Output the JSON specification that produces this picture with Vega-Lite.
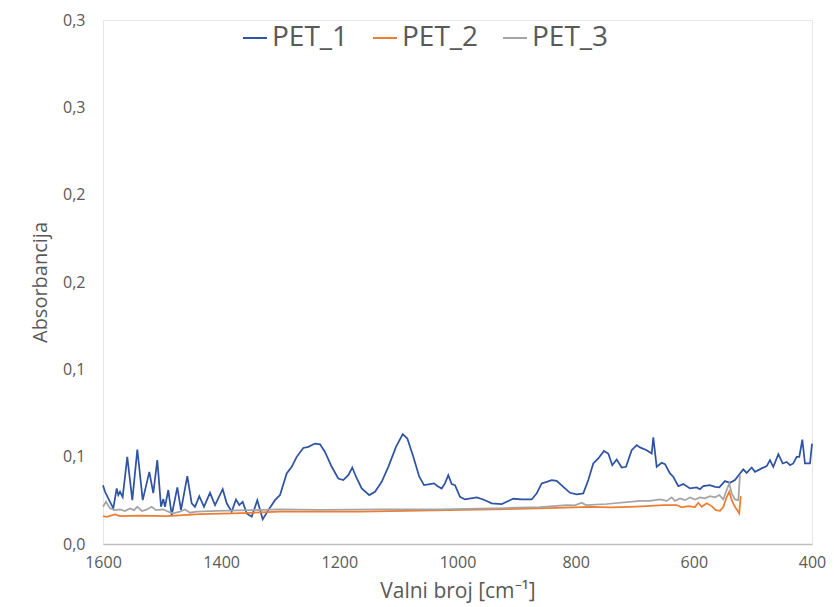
{
"$schema": "https://vega.github.io/schema/vega-lite/v6.json",
"width": 709, "height": 524,
"autosize": {"type": "none"},
"padding": {"left": 103, "top": 20, "right": 22, "bottom": 63},
"background": "white",
"config": {"font": "Open Sans", "view": {"stroke": "#e6e6e6"}},
"data": {"values": [
{"s":"PET_1","wn":1600,"v":0.0337},{"s":"PET_1","wn":1596.6,"v":0.0299},{"s":"PET_1","wn":1582.6,"v":0.0204},{"s":"PET_1","wn":1576.8,"v":0.0318},{"s":"PET_1","wn":1574.1,"v":0.028},{"s":"PET_1","wn":1571.2,"v":0.0299},{"s":"PET_1","wn":1566.7,"v":0.0269},{"s":"PET_1","wn":1558.9,"v":0.0499},{"s":"PET_1","wn":1550.4,"v":0.0251},{"s":"PET_1","wn":1541.9,"v":0.0541},{"s":"PET_1","wn":1532.8,"v":0.0251},{"s":"PET_1","wn":1521.6,"v":0.0413},{"s":"PET_1","wn":1514.9,"v":0.0291},{"s":"PET_1","wn":1508.1,"v":0.048},{"s":"PET_1","wn":1501.8,"v":0.0213},{"s":"PET_1","wn":1497.9,"v":0.0257},{"s":"PET_1","wn":1495.1,"v":0.0213},{"s":"PET_1","wn":1489.5,"v":0.0309},{"s":"PET_1","wn":1483.7,"v":0.0166},{"s":"PET_1","wn":1474.2,"v":0.0324},{"s":"PET_1","wn":1468.0,"v":0.0194},{"s":"PET_1","wn":1457.3,"v":0.0389},{"s":"PET_1","wn":1449.9,"v":0.0233},{"s":"PET_1","wn":1444.3,"v":0.0213},{"s":"PET_1","wn":1437.0,"v":0.0274},{"s":"PET_1","wn":1429.1,"v":0.0213},{"s":"PET_1","wn":1418.9,"v":0.0293},{"s":"PET_1","wn":1410.4,"v":0.0223},{"s":"PET_1","wn":1397.4,"v":0.0314},{"s":"PET_1","wn":1390.6,"v":0.0233},{"s":"PET_1","wn":1382.2,"v":0.0185},{"s":"PET_1","wn":1374.9,"v":0.0255},{"s":"PET_1","wn":1369.3,"v":0.0223},{"s":"PET_1","wn":1363.6,"v":0.0242},{"s":"PET_1","wn":1356.8,"v":0.0175},{"s":"PET_1","wn":1348.3,"v":0.0156},{"s":"PET_1","wn":1338.8,"v":0.0251},{"s":"PET_1","wn":1329.7,"v":0.0141},{"s":"PET_1","wn":1320.2,"v":0.0194},{"s":"PET_1","wn":1308.9,"v":0.0251},{"s":"PET_1","wn":1300.4,"v":0.028},{"s":"PET_1","wn":1289.1,"v":0.0404},{"s":"PET_1","wn":1280.6,"v":0.0442},{"s":"PET_1","wn":1272.2,"v":0.0499},{"s":"PET_1","wn":1261.0,"v":0.055},{"s":"PET_1","wn":1252.5,"v":0.0556},{"s":"PET_1","wn":1241.2,"v":0.0575},{"s":"PET_1","wn":1232.7,"v":0.0571},{"s":"PET_1","wn":1224.3,"v":0.0527},{"s":"PET_1","wn":1212.9,"v":0.0442},{"s":"PET_1","wn":1201.8,"v":0.0375},{"s":"PET_1","wn":1193.3,"v":0.0366},{"s":"PET_1","wn":1184.8,"v":0.0394},{"s":"PET_1","wn":1178.1,"v":0.0438},{"s":"PET_1","wn":1171.8,"v":0.0385},{"s":"PET_1","wn":1162.1,"v":0.0318},{"s":"PET_1","wn":1149.3,"v":0.028},{"s":"PET_1","wn":1139.6,"v":0.0299},{"s":"PET_1","wn":1128.3,"v":0.0356},{"s":"PET_1","wn":1117.1,"v":0.0442},{"s":"PET_1","wn":1104.1,"v":0.0556},{"s":"PET_1","wn":1092.7,"v":0.0629},{"s":"PET_1","wn":1084.9,"v":0.0604},{"s":"PET_1","wn":1074.8,"v":0.0499},{"s":"PET_1","wn":1064.7,"v":0.0385},{"s":"PET_1","wn":1056.7,"v":0.0337},{"s":"PET_1","wn":1046.6,"v":0.0343},{"s":"PET_1","wn":1039.8,"v":0.0347},{"s":"PET_1","wn":1033.5,"v":0.0331},{"s":"PET_1","wn":1026.8,"v":0.0318},{"s":"PET_1","wn":1021.2,"v":0.0347},{"s":"PET_1","wn":1015.6,"v":0.0394},{"s":"PET_1","wn":1009.8,"v":0.0343},{"s":"PET_1","wn":1004.2,"v":0.0337},{"s":"PET_1","wn":995.8,"v":0.027},{"s":"PET_1","wn":987.3,"v":0.0255},{"s":"PET_1","wn":967.5,"v":0.0267},{"s":"PET_1","wn":956.3,"v":0.0255},{"s":"PET_1","wn":942.1,"v":0.0233},{"s":"PET_1","wn":925.2,"v":0.0229},{"s":"PET_1","wn":916.7,"v":0.0242},{"s":"PET_1","wn":905.6,"v":0.0259},{"s":"PET_1","wn":891.4,"v":0.0255},{"s":"PET_1","wn":874.4,"v":0.0255},{"s":"PET_1","wn":865.9,"v":0.029},{"s":"PET_1","wn":857.5,"v":0.0347},{"s":"PET_1","wn":849.0,"v":0.0356},{"s":"PET_1","wn":840.6,"v":0.0366},{"s":"PET_1","wn":832.1,"v":0.0362},{"s":"PET_1","wn":820.9,"v":0.0327},{"s":"PET_1","wn":809.6,"v":0.0293},{"s":"PET_1","wn":798.3,"v":0.0284},{"s":"PET_1","wn":787.1,"v":0.029},{"s":"PET_1","wn":778.6,"v":0.0366},{"s":"PET_1","wn":770.2,"v":0.0461},{"s":"PET_1","wn":761.7,"v":0.049},{"s":"PET_1","wn":752.1,"v":0.0533},{"s":"PET_1","wn":744.8,"v":0.0518},{"s":"PET_1","wn":738.0,"v":0.0451},{"s":"PET_1","wn":730.6,"v":0.0484},{"s":"PET_1","wn":722.1,"v":0.0438},{"s":"PET_1","wn":714.8,"v":0.0442},{"s":"PET_1","wn":705.2,"v":0.0537},{"s":"PET_1","wn":696.7,"v":0.0566},{"s":"PET_1","wn":691.1,"v":0.0553},{"s":"PET_1","wn":679.8,"v":0.0537},{"s":"PET_1","wn":671.3,"v":0.0518},{"s":"PET_1","wn":668.6,"v":0.061},{"s":"PET_1","wn":662.9,"v":0.0442},{"s":"PET_1","wn":654.4,"v":0.0465},{"s":"PET_1","wn":648.8,"v":0.0457},{"s":"PET_1","wn":640.4,"v":0.0404},{"s":"PET_1","wn":634.8,"v":0.0385},{"s":"PET_1","wn":626.3,"v":0.0331},{"s":"PET_1","wn":617.8,"v":0.0343},{"s":"PET_1","wn":606.5,"v":0.0318},{"s":"PET_1","wn":595.2,"v":0.0324},{"s":"PET_1","wn":589.6,"v":0.0314},{"s":"PET_1","wn":584.0,"v":0.0331},{"s":"PET_1","wn":572.7,"v":0.0337},{"s":"PET_1","wn":564.2,"v":0.0327},{"s":"PET_1","wn":556.9,"v":0.0324},{"s":"PET_1","wn":547.3,"v":0.036},{"s":"PET_1","wn":538.8,"v":0.035},{"s":"PET_1","wn":530.4,"v":0.0366},{"s":"PET_1","wn":521.9,"v":0.0404},{"s":"PET_1","wn":516.3,"v":0.0427},{"s":"PET_1","wn":510.6,"v":0.0407},{"s":"PET_1","wn":502.1,"v":0.0438},{"s":"PET_1","wn":496.5,"v":0.0413},{"s":"PET_1","wn":485.2,"v":0.0433},{"s":"PET_1","wn":476.7,"v":0.0446},{"s":"PET_1","wn":471.1,"v":0.048},{"s":"PET_1","wn":465.5,"v":0.0442},{"s":"PET_1","wn":457.0,"v":0.0514},{"s":"PET_1","wn":449.6,"v":0.0461},{"s":"PET_1","wn":442.8,"v":0.047},{"s":"PET_1","wn":437.2,"v":0.0451},{"s":"PET_1","wn":431.7,"v":0.0461},{"s":"PET_1","wn":425.9,"v":0.0499},{"s":"PET_1","wn":421.5,"v":0.0499},{"s":"PET_1","wn":416.4,"v":0.0598},{"s":"PET_1","wn":411.9,"v":0.0461},{"s":"PET_1","wn":403.4,"v":0.0461},{"s":"PET_1","wn":400,"v":0.0575},
{"s":"PET_2","wn":1600,"v":0.016},{"s":"PET_2","wn":1593.7,"v":0.0156},{"s":"PET_2","wn":1579.7,"v":0.017},{"s":"PET_2","wn":1571.2,"v":0.016},{"s":"PET_2","wn":1540,"v":0.0163},{"s":"PET_2","wn":1492.2,"v":0.016},{"s":"PET_2","wn":1435.8,"v":0.0171},{"s":"PET_2","wn":1379.5,"v":0.0175},{"s":"PET_2","wn":1300.4,"v":0.0185},{"s":"PET_2","wn":1165.0,"v":0.0186},{"s":"PET_2","wn":1012.7,"v":0.0194},{"s":"PET_2","wn":916.7,"v":0.02},{"s":"PET_2","wn":832.1,"v":0.0207},{"s":"PET_2","wn":775.8,"v":0.0213},{"s":"PET_2","wn":740,"v":0.0209},{"s":"PET_2","wn":708.1,"v":0.0213},{"s":"PET_2","wn":679.8,"v":0.0217},{"s":"PET_2","wn":651.7,"v":0.0223},{"s":"PET_2","wn":629.0,"v":0.0223},{"s":"PET_2","wn":620.6,"v":0.021},{"s":"PET_2","wn":609.4,"v":0.0217},{"s":"PET_2","wn":598.0,"v":0.0211},{"s":"PET_2","wn":592.5,"v":0.0236},{"s":"PET_2","wn":586.7,"v":0.0213},{"s":"PET_2","wn":578.2,"v":0.0233},{"s":"PET_2","wn":569.8,"v":0.0217},{"s":"PET_2","wn":562.5,"v":0.0194},{"s":"PET_2","wn":555.7,"v":0.019},{"s":"PET_2","wn":549.9,"v":0.0213},{"s":"PET_2","wn":545.4,"v":0.0261},{"s":"PET_2","wn":540.0,"v":0.0299},{"s":"PET_2","wn":535.9,"v":0.0251},{"s":"PET_2","wn":530.4,"v":0.0213},{"s":"PET_2","wn":523.1,"v":0.0175},{"s":"PET_2","wn":520.7,"v":0.0274},
{"s":"PET_3","wn":1600,"v":0.0213},{"s":"PET_3","wn":1594.9,"v":0.0242},{"s":"PET_3","wn":1588.2,"v":0.0204},{"s":"PET_3","wn":1579.7,"v":0.0194},{"s":"PET_3","wn":1571.2,"v":0.0198},{"s":"PET_3","wn":1562.8,"v":0.0189},{"s":"PET_3","wn":1554.3,"v":0.0204},{"s":"PET_3","wn":1547.5,"v":0.0194},{"s":"PET_3","wn":1541.9,"v":0.0213},{"s":"PET_3","wn":1534.0,"v":0.0189},{"s":"PET_3","wn":1525.5,"v":0.0198},{"s":"PET_3","wn":1517.6,"v":0.0213},{"s":"PET_3","wn":1510.3,"v":0.0194},{"s":"PET_3","wn":1497.9,"v":0.0198},{"s":"PET_3","wn":1489.5,"v":0.0185},{"s":"PET_3","wn":1481.0,"v":0.0175},{"s":"PET_3","wn":1469.7,"v":0.0185},{"s":"PET_3","wn":1461.2,"v":0.0198},{"s":"PET_3","wn":1452.8,"v":0.0179},{"s":"PET_3","wn":1441.4,"v":0.0185},{"s":"PET_3","wn":1407.6,"v":0.0189},{"s":"PET_3","wn":1351.2,"v":0.0194},{"s":"PET_3","wn":1300.4,"v":0.0198},{"s":"PET_3","wn":1232.7,"v":0.0196},{"s":"PET_3","wn":1131.2,"v":0.0198},{"s":"PET_3","wn":1029.7,"v":0.0198},{"s":"PET_3","wn":916.7,"v":0.0206},{"s":"PET_3","wn":860.4,"v":0.0211},{"s":"PET_3","wn":815.2,"v":0.0223},{"s":"PET_3","wn":801.3,"v":0.0221},{"s":"PET_3","wn":789.8,"v":0.0236},{"s":"PET_3","wn":782.5,"v":0.0223},{"s":"PET_3","wn":747.5,"v":0.0229},{"s":"PET_3","wn":691.1,"v":0.0247},{"s":"PET_3","wn":674.2,"v":0.0247},{"s":"PET_3","wn":657.3,"v":0.0255},{"s":"PET_3","wn":645.9,"v":0.0247},{"s":"PET_3","wn":637.5,"v":0.0267},{"s":"PET_3","wn":631.9,"v":0.0247},{"s":"PET_3","wn":623.4,"v":0.0261},{"s":"PET_3","wn":615.0,"v":0.0251},{"s":"PET_3","wn":606.5,"v":0.0267},{"s":"PET_3","wn":598.0,"v":0.0255},{"s":"PET_3","wn":589.6,"v":0.0267},{"s":"PET_3","wn":581.1,"v":0.0261},{"s":"PET_3","wn":572.7,"v":0.0274},{"s":"PET_3","wn":564.2,"v":0.0267},{"s":"PET_3","wn":556.9,"v":0.028},{"s":"PET_3","wn":550.2,"v":0.0255},{"s":"PET_3","wn":544.4,"v":0.0309},{"s":"PET_3","wn":540.0,"v":0.0347},{"s":"PET_3","wn":535.9,"v":0.029},{"s":"PET_3","wn":530.4,"v":0.0255},{"s":"PET_3","wn":524.7,"v":0.0251},{"s":"PET_3","wn":521.9,"v":0.0394}
]},
"mark": {"type": "line", "strokeWidth": 1.75},
"encoding": {
"x": {"field": "wn", "type": "quantitative", "scale": {"domain": [400, 1600], "reverse": true, "nice": false, "zero": false},
 "axis": {"values": [400, 600, 800, 1000, 1200, 1400, 1600], "format": "d", "labelFlush": false, "labelOverlap": false, "title": "Valni broj [cm⁻¹]", "grid": false, "ticks": false, "tickSize": 0, "domainColor": "#bfbfbf", "domainWidth": 1.5, "labelFontSize": 16, "labelColor": "#595959", "labelPadding": 10, "titleFontSize": 21, "titleFontWeight": "normal", "titleColor": "#595959", "titlePadding": 10}},
"y": {"field": "v", "type": "quantitative", "scale": {"domain": [0, 0.3], "nice": false},
 "axis": {"values": [0, 0.05, 0.1, 0.15, 0.2, 0.25, 0.3], "labelExpr": "replace(format(datum.value + 0.0001, '.1f'), '.', ',')", "labelFlush": false, "labelOverlap": false, "title": "Absorbancija", "grid": false, "domain": false, "ticks": false, "tickSize": 0, "labelFontSize": 16, "labelColor": "#595959", "labelPadding": 18, "titleFontSize": 20, "titleFontWeight": "normal", "titleColor": "#595959", "titlePadding": 12}},
"color": {"field": "s", "type": "nominal", "scale": {"domain": ["PET_1", "PET_2", "PET_3"], "range": ["#2F54A3", "#ED7D31", "#A5A5A5"]},
 "legend": {"title": null, "orient": "none", "legendX": 138, "legendY": 4, "direction": "horizontal", "labelFontSize": 28, "labelColor": "#595959", "symbolType": "stroke", "symbolSize": 576, "symbolStrokeWidth": 2, "labelOffset": 3, "columnPadding": 20}}
}
}
